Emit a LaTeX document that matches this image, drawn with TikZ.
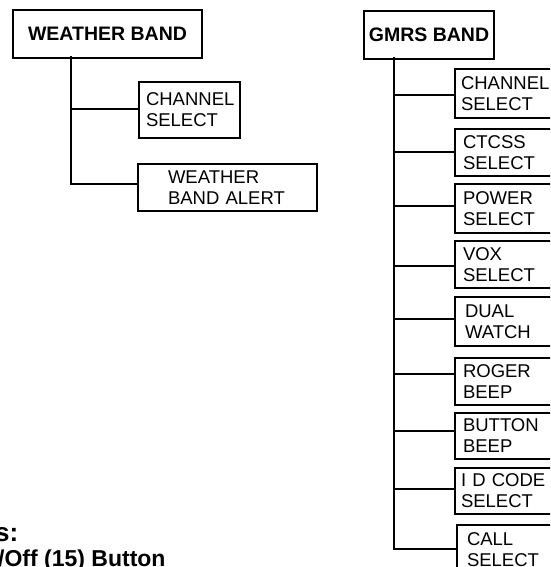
\documentclass[tikz,border=0pt]{standalone}
\usepackage{fontspec}
\setmainfont{Liberation Sans}
\begin{document}
\begin{tikzpicture}[x=1pt,y=-1pt,
  every node/.style={font=\fontsize{18.5}{21}\selectfont},
  boxline/.style={draw=black, line width=2pt},
  head/.style={boxline, anchor=north west, align=center, inner sep=0pt,
     font=\fontsize{19.5}{22}\selectfont\bfseries},
  lbox/.style={boxline, anchor=north west, align=left, inner ysep=0pt},
  rbox/.style={boxline, anchor=north west, align=left, inner ysep=0pt,
     inner xsep=8pt, text width=100pt},
  conn/.style={line width=2pt, line cap=rect},
  foot/.style={anchor=base west, inner sep=0pt, font=\fontsize{23}{26}\selectfont\bfseries}
]
\useasboundingbox (0,0) rectangle (550,567);
\clip (0,0) rectangle (550,567);

% ---------- WEATHER BAND ----------
\node[head, minimum width=189pt, minimum height=48pt] (wb) at (12,9) {WEATHER BAND};
\node[lbox, inner xsep=7pt, text width=87pt, minimum height=56pt] (wcs) at (138,81) {CHANNEL\\SELECT};
\node[lbox, inner xsep=30pt, text width=119pt, minimum height=47pt] (wba) at (137,163) {WEATHER\\BAND ALERT};
\coordinate (wt) at (71,57);
\draw[conn] (wt) |- ([yshift=1pt]wcs.west);
\draw[conn] (wt) |- ([yshift=3.5pt]wba.west);

% ---------- GMRS BAND ----------
\node[head, minimum width=130pt, minimum height=48pt] (gb) at (363,10) {GMRS BAND};
\node[rbox, inner xsep=6pt, text width=104pt, minimum height=49pt] (g1) at (454,68) {CHANNEL\\SELECT};
\node[rbox, minimum height=47pt] (g2) at (454,128) {CTCSS\\SELECT};
\node[rbox, minimum height=49pt] (g3) at (454,183) {POWER\\SELECT};
\node[rbox, minimum height=47pt] (g4) at (454,240) {VOX\\SELECT};
\node[rbox, inner xsep=10pt, text width=96pt, minimum height=49pt] (g5) at (454,296) {DUAL\\WATCH};
\node[rbox, minimum height=47pt] (g6) at (454,357) {ROGER\\BEEP};
\node[rbox, minimum height=46pt] (g7) at (454,412) {BUTTON\\BEEP};
\node[rbox, inner xsep=6pt, text width=104pt, minimum height=46pt] (g8) at (454,467) {I D CODE\\SELECT};
\node[rbox, inner xsep=10pt, text width=96pt, minimum height=50pt] (g9) at (456,524) {CALL\\SELECT};
\coordinate (gt) at (394,58);
\draw[conn] (gt) |- ([yshift=-1.5pt]g1.west);
\draw[conn] (gt) |- ([yshift=0.5pt]g2.west);
\draw[conn] (gt) |- ([yshift=2.5pt]g3.west);
\draw[conn] (gt) |- ([yshift=-1.5pt]g4.west);
\draw[conn] (gt) |- ([yshift=2.5pt]g5.west);
\draw[conn] (gt) |- ([yshift=7.5pt]g6.west);
\draw[conn] (gt) |- ([yshift=5pt]g7.west);
\draw[conn] (gt) |- ([yshift=2pt]g8.west);
\draw[conn] (gt) |- ([yshift=1pt]g9.west);

% ---------- cut-off footer text ----------
\node[foot, font=\fontsize{26}{28}\selectfont\bfseries] (f1) at (-5,541) {s:};
\node[foot] (f2) at (-2,566) {/Off (15) Button};
\end{tikzpicture}
\end{document}
